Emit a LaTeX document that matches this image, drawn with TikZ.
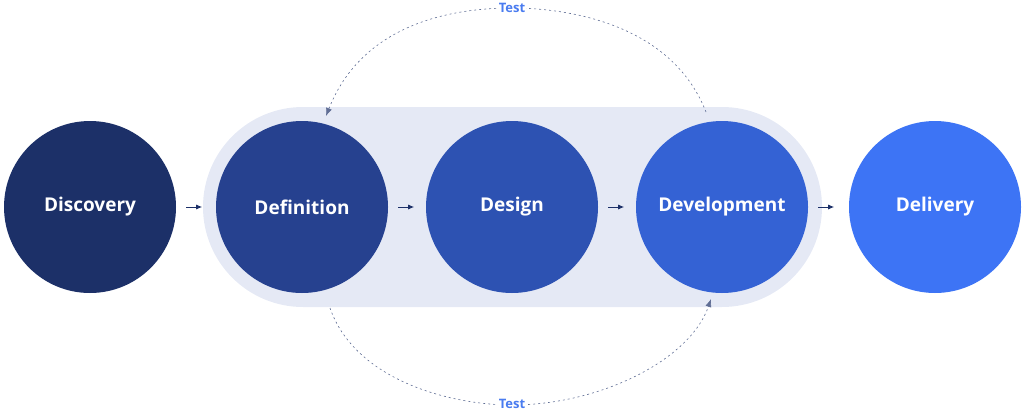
\documentclass[tikz,border=0pt]{standalone}
\usepackage{fontspec}
\setmainfont{Open Sans}
\usetikzlibrary{arrows.meta}
\definecolor{c1}{HTML}{1C3068}
\definecolor{c2}{HTML}{26418F}
\definecolor{c3}{HTML}{2D52B2}
\definecolor{c4}{HTML}{3462D4}
\definecolor{c5}{HTML}{3D74F5}
\definecolor{bg}{HTML}{E5E9F5}
\definecolor{tc}{HTML}{4A7CF0}
\definecolor{ar}{HTML}{1C3068}
\begin{document}
\begin{tikzpicture}[x=1pt,y=-1pt,
  stage/.style={circle,minimum size=172pt,inner sep=0,text=white,font=\bfseries\fontsize{19}{22}\selectfont},
  flow/.style={-{Latex[length=6pt,width=5pt]},ar,line width=0.9pt},
  loop/.style={-{Latex[length=8pt,width=6pt]},ar!70,dashed,dash pattern=on 2pt off 3pt,line width=0.6pt},
  lbl/.style={text=tc,font=\bfseries\fontsize{13}{15}\selectfont,fill=white,inner sep=1pt}]
\useasboundingbox (0,0) rectangle (1024,412);
\fill[bg,rounded corners=100pt] (203,107) rectangle (822,307);
\node[stage,fill=c1] (disc) at (90,207) {Discovery};
\node[stage,fill=c2] (def) at (302,207) {Definition};
\node[stage,fill=c3] (des) at (512,207) {Design};
\node[stage,fill=c4] (dev) at (722,207) {Development};
\node[stage,fill=c5] (del) at (935,207) {Delivery};
\draw[flow] (disc.east)++(10,0) coordinate (a1) -- ++(16,0) coordinate (b1);
\draw[flow] (def.east)++(10,0) -- ++(16,0);
\draw[flow] (des.east)++(10,0) -- ++(16,0);
\draw[flow] (dev.east)++(10,0) -- ++(16,0);
\coordinate (ts) at (706,112);
\coordinate (te) at (326,116);
\coordinate (bs) at (330,308);
\coordinate (be) at (711,299);
\draw[loop] (ts) .. controls (670,20) and (560,8) .. (512,8) .. controls (440,8) and (360,30) .. (te);
\node[lbl] (t1) at (512,8) {Test};
\draw[loop] (bs) .. controls (355,380) and (450,405) .. (512,405) .. controls (600,405) and (690,360) .. (be);
\node[lbl] (t2) at (512,404) {Test};
\end{tikzpicture}
\end{document}
